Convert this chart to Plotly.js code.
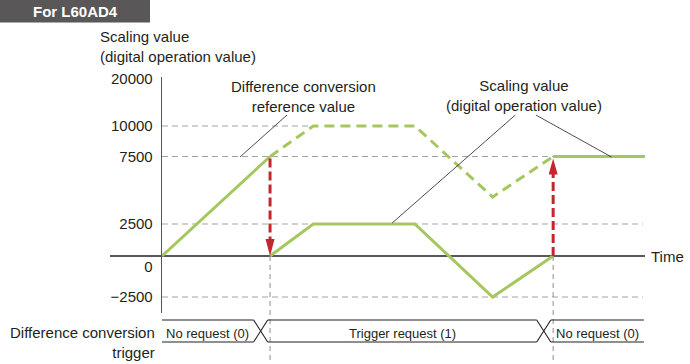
<!DOCTYPE html>
<html><head><meta charset="utf-8">
<script src="https://cdn.plot.ly/plotly-3.0.1.min.js"></script>
<style>html,body{margin:0;padding:0;background:#fff}#chart{width:690px;height:364px}</style>
</head><body><div id="chart"></div>
<script>
// ---------------- data ----------------
const yTickValues = [20000, 10000, 7500, 2500, 0, -2500];
const yTickLabels = ['20000', '10000', '7500', '2500', '0', '\u22122500'];
const scalingTime1 = [0, 10];
const scalingValue1 = [0, 7500];
const scalingTime2 = [10, 14, 23.4, 30.6, 36.2];
const scalingValue2 = [0, 2500, 2500, -2500, 0];
const scalingTime3 = [36.2, 44.7];
const scalingValue3 = [7500, 7500];
const referenceTime = [10, 14, 23.4, 30.6, 36.2];
const referenceValue = [7500, 10000, 10000, 4500, 7500];
const triggerTime = [10, 36.2];
const triggerLabels = ['No request (0)', 'Trigger request (1)', 'No request (0)'];
const timeEnd = 44.7;

// ---------------- scale (broken axis: value -> axis position) ----------------
const scaleValues = [-2500, 0, 2500, 7500, 10000, 20000];
const scalePositions = [-41, 0, 32, 99.5, 130, 177];
function toU(v) {
  for (let i = 0; i < scaleValues.length - 1; i++) {
    const a = scaleValues[i], b = scaleValues[i + 1];
    if (v <= b || i === scaleValues.length - 2) {
      return scalePositions[i] + (v - a) / (b - a) * (scalePositions[i + 1] - scalePositions[i]);
    }
  }
}
const mapArr = arr => arr.map(toU);

// ---------------- style ----------------
const FONT = 'Liberation Sans, Arial, Helvetica, sans-serif';
const TXT = '#231f20';
const GREEN = '#a6c75f';
const RED = '#c1272d';
const GRID = '#a3a3a3';
const M = {l: 162, r: 45, t: 77, b: 51};
const W = 690, H = 364;
const PW = W - M.l - M.r, PH = H - M.t - M.b;
const yRange = [-57, 179];
const px = x => (x - M.l) / PW;          // page pixel -> paper x
const py = y => (H - M.b - y) / PH;       // page pixel -> paper y
const uToPaper = u => (u - yRange[0]) / (yRange[1] - yRange[0]);
const zeroLabelShift = -11;
const crossOffset = -0.87, crossHalf = 0.65;
const rowTop = py(320), rowBot = py(342), rowMid = py(333);

// ---------------- traces ----------------
const traces = [
  {x: scalingTime1, y: mapArr(scalingValue1), mode: 'lines', line: {color: GREEN, width: 3}},
  {x: scalingTime2, y: mapArr(scalingValue2), mode: 'lines', line: {color: GREEN, width: 3}},
  {x: scalingTime3, y: mapArr(scalingValue3), mode: 'lines', line: {color: GREEN, width: 3}},
  {x: referenceTime, y: mapArr(referenceValue), mode: 'lines', line: {color: GREEN, width: 3, dash: '10px,6px'}},
  // red difference arrows (shafts)
  {x: [triggerTime[0], triggerTime[0]], y: [toU(scalingValue1[1]) - 2, toU(scalingValue2[0]) + 10],
   mode: 'lines', line: {color: RED, width: 3, dash: '9px,4px'}},
  {x: [triggerTime[1], triggerTime[1]], y: [toU(scalingValue2[4]), toU(scalingValue3[0]) - 12],
   mode: 'lines', line: {color: RED, width: 3, dash: '9px,4px'}}
].map(t => Object.assign(t, {hoverinfo: 'skip', showlegend: false}));

// ---------------- shapes ----------------
const shapes = [];
// header box
shapes.push({type: 'rect', xref: 'paper', yref: 'paper', x0: px(0), x1: px(150), y0: py(22.5), y1: py(0),
  fillcolor: '#595757', line: {width: 0}});
// dashed grid lines
[10000, 7500, 2500, -2500].forEach(v => {
  shapes.push({type: 'line', xref: 'x', yref: 'y', x0: 0, x1: v === 10000 ? referenceTime[1] : timeEnd - 0.2,
    y0: toU(v), y1: toU(v), layer: 'below', line: {color: GRID, width: 1, dash: '6px,4px'}});
});
// time axis line
shapes.push({type: 'line', xref: 'paper', yref: 'y', x0: px(110), x1: px(645), y0: toU(0), y1: toU(0),
  layer: 'below', line: {color: TXT, width: 1.3}});
// vertical dashed trigger markers
triggerTime.forEach(t => {
  shapes.push({type: 'line', xref: 'x', yref: 'paper', x0: t, x1: t, y0: uToPaper(toU(0)), y1: py(362),
    line: {color: '#8f8f8f', width: 1, dash: '5px,4px'}});
});
// leader lines
[[7.22, 99, 11.57, 141], [32.7, 141, 21.3, 33], [34.6, 141, 41.6, 99]].forEach(s => {
  shapes.push({type: 'line', xref: 'x', yref: 'y', x0: s[0], y0: s[1], x1: s[2], y1: s[3],
    line: {color: TXT, width: 0.8}});
});
// trigger signal row
const crosses = triggerTime.map(t => t + crossOffset);
const segStart = [0, crosses[0] + crossHalf, crosses[1] + crossHalf];
const segEnd = [crosses[0] - crossHalf, crosses[1] - crossHalf, timeEnd - 0.1];
for (let i = 0; i < 3; i++) {
  [rowTop, rowBot].forEach(yy => shapes.push({type: 'line', xref: 'x', yref: 'paper', x0: segStart[i], x1: segEnd[i],
    y0: yy, y1: yy, line: {color: TXT, width: 1.1}}));
}
crosses.forEach(c => {
  shapes.push({type: 'line', xref: 'x', yref: 'paper', x0: c - crossHalf, x1: c + crossHalf, y0: rowTop, y1: rowBot, line: {color: TXT, width: 1.1}});
  shapes.push({type: 'line', xref: 'x', yref: 'paper', x0: c - crossHalf, x1: c + crossHalf, y0: rowBot, y1: rowTop, line: {color: TXT, width: 1.1}});
});
// arrowheads
shapes.push({type: 'path', xref: 'x', yref: 'y', xsizemode: 'pixel', ysizemode: 'pixel',
  xanchor: triggerTime[0], yanchor: toU(scalingValue2[0]), path: 'M-4.5,17 L4.5,17 L0,0 Z',
  fillcolor: RED, line: {width: 0}});
shapes.push({type: 'path', xref: 'x', yref: 'y', xsizemode: 'pixel', ysizemode: 'pixel',
  xanchor: triggerTime[1], yanchor: toU(scalingValue3[0]), path: 'M-4.5,-18 L4.5,-18 L0,-2 Z',
  fillcolor: RED, line: {width: 0}});

// ---------------- annotations ----------------
const f = (size, color, bold) => ({family: FONT, size: size, color: color || TXT});
const annotations = [
  {xref: 'paper', yref: 'paper', x: px(75.5), y: py(11.5), text: '<b>For L60AD4</b>', showarrow: false,
    font: f(15, '#ffffff'), xanchor: 'center', yanchor: 'middle'},
  {xref: 'paper', yref: 'paper', x: px(98), y: py(47), text: 'Scaling value<br>(digital operation value)', showarrow: false,
    font: f(15), xanchor: 'left', yanchor: 'middle', align: 'left'},
  {xref: 'paper', yref: 'y', x: px(649), y: toU(0), text: 'Time', showarrow: false, font: f(15), xanchor: 'left', yanchor: 'middle'},
  {xref: 'x', yref: 'y', x: 13.05, y: 159.5, text: 'Difference conversion<br>reference value', showarrow: false,
    font: f(15), xanchor: 'center', yanchor: 'middle', align: 'center'},
  {xref: 'x', yref: 'y', x: 33.5, y: 161, text: 'Scaling value<br>(digital operation value)', showarrow: false,
    font: f(15), xanchor: 'center', yanchor: 'middle', align: 'center'},
  {xref: 'paper', yref: 'paper', x: px(157), y: py(342), text: 'Difference conversion<br>trigger', showarrow: false,
    font: f(15), xanchor: 'right', yanchor: 'middle', align: 'right'}
];
triggerLabels.forEach((lab, i) => {
  annotations.push({xref: 'x', yref: 'paper', x: (segStart[i] + segEnd[i]) / 2, y: rowMid, text: lab, showarrow: false,
    font: f(13), xanchor: 'center', yanchor: 'middle'});
});

const layout = {
  width: W, height: H, margin: M, paper_bgcolor: '#fff', plot_bgcolor: '#fff',
  font: {family: FONT, color: TXT},
  showlegend: false,
  xaxis: {range: [0, timeEnd], showgrid: false, zeroline: false, showticklabels: false, showline: false, ticks: '', fixedrange: true},
  yaxis: {range: yRange, showgrid: false, zeroline: false, showline: true, linecolor: '#5b5353', linewidth: 1.3,
    ticks: '', tickmode: 'array',
    tickvals: yTickValues.map(v => toU(v) + (v === 0 ? zeroLabelShift : 0)), ticktext: yTickLabels,
    tickfont: {family: FONT, size: 15, color: TXT}, ticklabelstandoff: 5, fixedrange: true},
  shapes: shapes, annotations: annotations
};
Plotly.newPlot('chart', traces, layout, {staticPlot: true, displayModeBar: false});
</script></body></html>
